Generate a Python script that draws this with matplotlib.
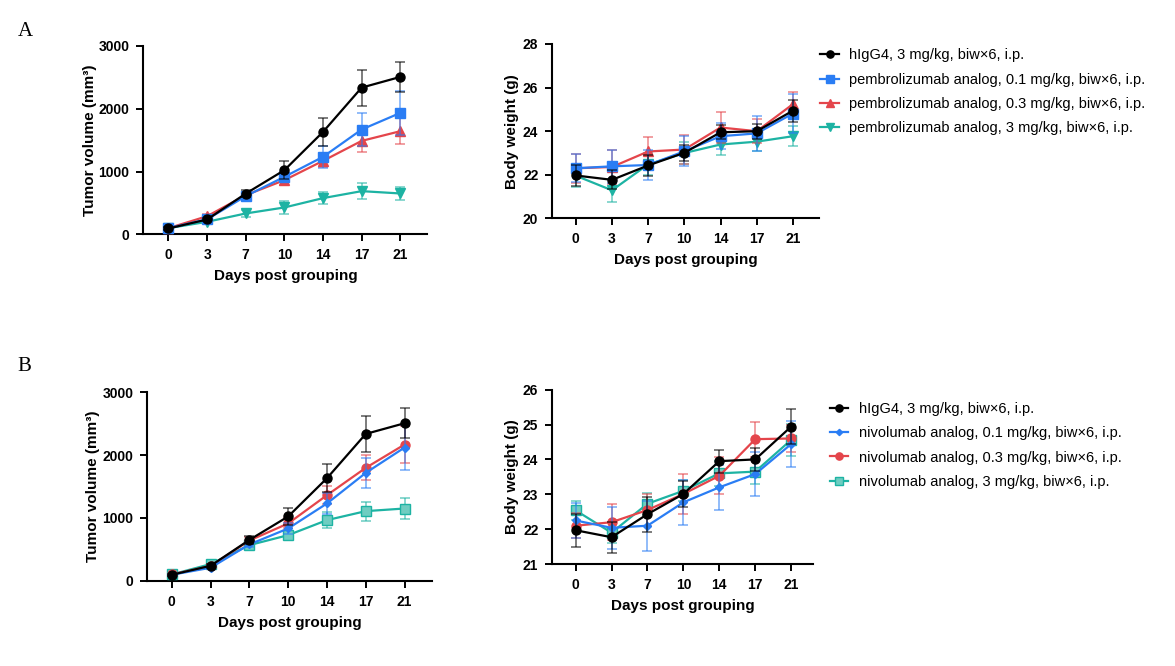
import matplotlib
matplotlib.use("Agg")
import matplotlib.pyplot as plt
import numpy as np

plt.rcParams['font.family'] = ['Liberation Sans', 'DejaVu Sans']

# --- data ---
days = ['0', '3', '7', '10', '14', '17', '21']

higg4_tv = [95, 238, 650, 1023, 1632, 2337, 2507]
higg4_tv_sem = [20, 30, 60, 140, 222, 285, 235]

pem01_tv = [100, 240, 610, 917, 1235, 1670, 1934]
pem01_tv_sem = [15, 25, 40, 80, 170, 265, 350]
pem03_tv = [100, 290, 625, 864, 1171, 1489, 1643]
pem03_tv_sem = [15, 30, 50, 70, 100, 175, 210]
pem3_tv = [100, 201, 334, 429, 578, 689, 652]
pem3_tv_sem = [15, 20, 50, 100, 100, 130, 105]

niv01_tv = [95, 207, 578, 832, 1230, 1717, 2120]
niv01_tv_sem = [15, 25, 40, 80, 160, 240, 360]
niv03_tv = [100, 235, 640, 912, 1362, 1797, 2168]
niv03_tv_sem = [15, 25, 50, 80, 140, 200, 290]
niv3_tv = [100, 265, 567, 726, 965, 1108, 1150]
niv3_tv_sem = [15, 25, 40, 60, 130, 150, 160]

higg4_bw = [21.97, 21.77, 22.43, 23.01, 23.95, 24.0, 24.94]
higg4_bw_sem = [0.47, 0.44, 0.5, 0.38, 0.33, 0.34, 0.5]

pem01_bw = [22.3, 22.39, 22.45, 23.08, 23.77, 23.9, 24.81]
pem01_bw_sem = [0.64, 0.77, 0.7, 0.69, 0.6, 0.81, 0.89]
pem03_bw = [22.3, 22.36, 23.07, 23.16, 24.17, 24.0, 25.24]
pem03_bw_sem = [0.66, 0.8, 0.67, 0.67, 0.72, 0.54, 0.55]
pem3_bw = [21.96, 21.29, 22.48, 23.0, 23.39, 23.52, 23.77]
pem3_bw_sem = [0.5, 0.54, 0.5, 0.5, 0.5, 0.43, 0.46]

niv01_bw = [22.25, 22.04, 22.1, 22.77, 23.2, 23.58, 24.44]
niv01_bw_sem = [0.5, 0.6, 0.72, 0.64, 0.64, 0.62, 0.66]
niv03_bw = [22.1, 22.2, 22.55, 23.01, 23.53, 24.58, 24.6]
niv03_bw_sem = [0.36, 0.52, 0.45, 0.58, 0.53, 0.5, 0.38]
niv3_bw = [22.54, 21.9, 22.73, 23.1, 23.6, 23.65, 24.56]
niv3_bw_sem = [0.28, 0.3, 0.32, 0.3, 0.35, 0.36, 0.45]

labels_a = ['hIgG4, 3 mg/kg, biw×6, i.p.',
            'pembrolizumab analog, 0.1 mg/kg, biw×6, i.p.',
            'pembrolizumab analog, 0.3 mg/kg, biw×6, i.p.',
            'pembrolizumab analog, 3 mg/kg, biw×6, i.p.']
labels_b = ['hIgG4, 3 mg/kg, biw×6, i.p.',
            'nivolumab analog, 0.1 mg/kg, biw×6, i.p.',
            'nivolumab analog, 0.3 mg/kg, biw×6, i.p.',
            'nivolumab analog, 3 mg/kg, biw×6, i.p.']

BLACK = '#000000'
BLUE = '#2a7df4'
RED = '#e4454b'
TEAL = '#1db3a3'

# marker styles: (color, marker, size, facecolor)
style_a = [(BLACK, 'o', 6.5, BLACK), (BLUE, 's', 6.5, BLUE),
           (RED, '^', 6.5, RED), (TEAL, 'v', 6.5, TEAL)]
style_b = [(BLACK, 'o', 6.5, BLACK), (BLUE, 'D', 4, BLUE),
           (RED, 'o', 6.5, RED), (TEAL, 's', 6.5, '#6fcdc1')]

x = np.arange(len(days))


def draw_panel(ax, series, sems, styles, ylim, yticks, ylabel, ylabelpad=3):
    handles = [None] * len(series)
    # draw treatment groups first so the control line lies on top
    for i in [3, 2, 1, 0]:
        col, mk, ms, fc = styles[i]
        c = ax.errorbar(x, series[i], yerr=sems[i], color=col, marker=mk,
                        markersize=ms, markerfacecolor=fc, markeredgecolor=col,
                        linewidth=1.6, elinewidth=1.2, capsize=3.5,
                        capthick=1.2, ecolor=col, zorder=3 + (3 - i))
        for art in c[1]:
            art.set_alpha(0.6)
        for art in c[2]:
            art.set_alpha(0.6)
        handles[i] = c[0]
    ax.set_xlim(-0.65, 6.72)
    ax.set_ylim(*ylim)
    ax.set_yticks(yticks)
    ax.set_xticks(x)
    ax.set_xticklabels(days)
    for s in ['top', 'right']:
        ax.spines[s].set_visible(False)
    for s in ['left', 'bottom']:
        ax.spines[s].set_linewidth(1.5)
    ax.tick_params(direction='out', length=5, width=1.4, labelsize=10, pad=5)
    for lab in ax.get_xticklabels() + ax.get_yticklabels():
        lab.set_fontweight('bold')
    ax.set_xlabel('Days post grouping', fontsize=11, fontweight='bold', labelpad=5)
    ax.set_ylabel(ylabel, fontsize=11, fontweight='bold', labelpad=ylabelpad)
    return handles


fig = plt.figure(figsize=(11.75, 6.66), dpi=100)

ax_tl = fig.add_axes([0.122, 0.648, 0.2417, 0.283])
ax_tr = fig.add_axes([0.470, 0.672, 0.227, 0.262])
ax_bl = fig.add_axes([0.1254, 0.128, 0.242, 0.283])
ax_br = fig.add_axes([0.470, 0.153, 0.2217, 0.262])

draw_panel(ax_tl, [higg4_tv, pem01_tv, pem03_tv, pem3_tv],
           [higg4_tv_sem, pem01_tv_sem, pem03_tv_sem, pem3_tv_sem],
           style_a, (0, 3000), [0, 1000, 2000, 3000], 'Tumor volume (mm³)', 1)
h_a = draw_panel(ax_tr, [higg4_bw, pem01_bw, pem03_bw, pem3_bw],
                 [higg4_bw_sem, pem01_bw_sem, pem03_bw_sem, pem3_bw_sem],
                 style_a, (20, 28), [20, 22, 24, 26, 28], 'Body weight (g)', 3)
draw_panel(ax_bl, [higg4_tv, niv01_tv, niv03_tv, niv3_tv],
           [higg4_tv_sem, niv01_tv_sem, niv03_tv_sem, niv3_tv_sem],
           style_b, (0, 3000), [0, 1000, 2000, 3000], 'Tumor volume (mm³)', 2)
h_b = draw_panel(ax_br, [higg4_bw, niv01_bw, niv03_bw, niv3_bw],
                 [higg4_bw_sem, niv01_bw_sem, niv03_bw_sem, niv3_bw_sem],
                 style_b, (21, 26), [21, 22, 23, 24, 25, 26], 'Body weight (g)', 3)

ax_tl.set_xlim(-0.65, 6.7)
ax_bl.set_xlim(-0.63, 6.7)
ax_br.set_xlim(-0.65, 6.6)

leg_kw = dict(frameon=False, fontsize=10.5, handlelength=1.3, handletextpad=0.7,
              labelspacing=0.7, borderaxespad=0, loc='upper left', markerscale=0.8)
fig.legend(h_a, labels_a, bbox_to_anchor=(0.693, 0.936), **leg_kw)
fig.legend(h_b, labels_b, bbox_to_anchor=(0.701, 0.405), **leg_kw)

fig.text(0.015, 0.953, 'A', fontsize=15, family=['Liberation Serif', 'DejaVu Serif'],
         va='center', ha='left')
fig.text(0.015, 0.450, 'B', fontsize=15, family=['Liberation Serif', 'DejaVu Serif'],
         va='center', ha='left')

fig.savefig('out.png', dpi=100)
